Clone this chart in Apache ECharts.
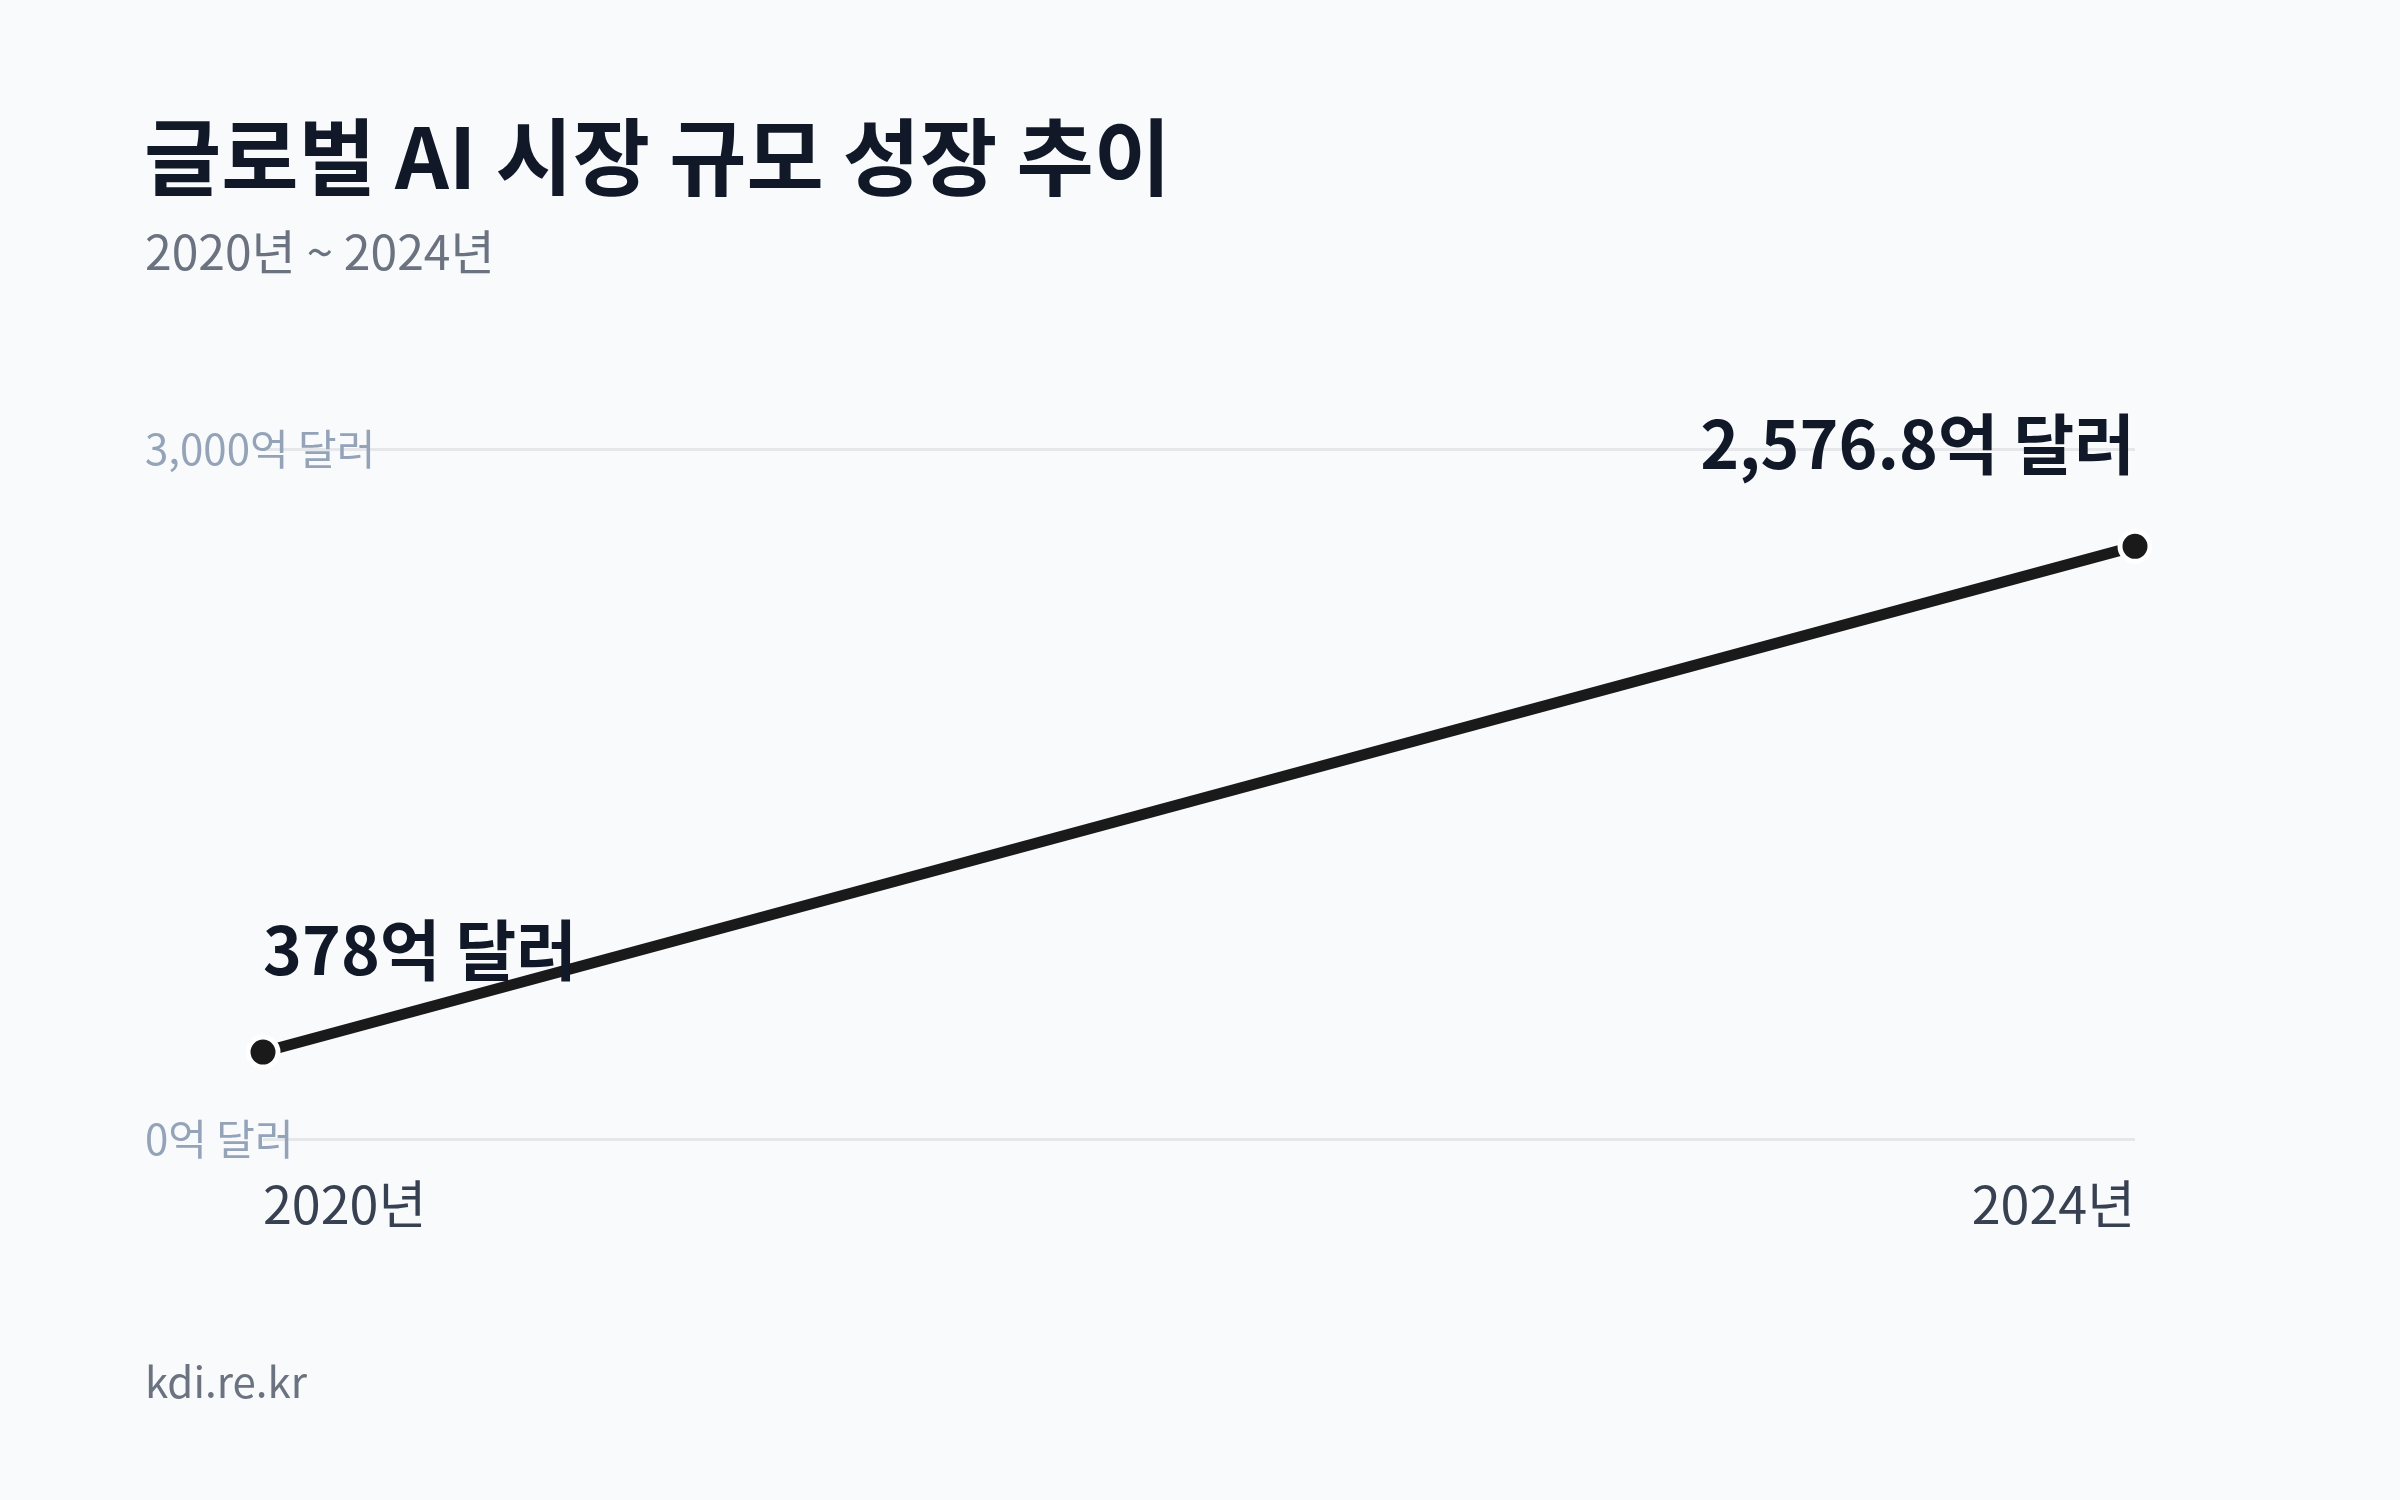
<!DOCTYPE html>
<html lang="ko">
<head>
<meta charset="utf-8">
<title>글로벌 AI 시장 규모 성장 추이</title>
<script src="https://cdn.jsdelivr.net/npm/echarts@6/dist/echarts.min.js"></script>
<style>
  html, body { margin: 0; padding: 0; background: #f8fafc; }
  #chart { width: 2400px; height: 1500px; }
</style>
</head>
<body>
<div id="chart"></div>
<script>
// 데이터
const years = ['2020년', '2024년'];
const marketSize = [378, 2576.8]; // 억 달러
const yTicks = [0, 3000];

const FONT = '"Noto Sans CJK KR", "Noto Sans", sans-serif';

function fmt(v) {
  return v.toLocaleString('en-US', { maximumFractionDigits: 1 }) + '억 달러';
}

const myChart = echarts.init(document.getElementById('chart'));

// 첫 점은 왼쪽 정렬, 마지막 점은 오른쪽 정렬 라벨
const seriesData = marketSize.map((v, i) => ({
  value: v,
  label: { align: i === 0 ? 'left' : 'right' }
}));

const option = {
  backgroundColor: '#f8fafc',
  textStyle: { fontFamily: FONT },
  title: [
    {
      text: '글로벌 AI 시장 규모 성장 추이',
      left: 139,
      top: 110,
      textStyle: { fontFamily: FONT, fontSize: 84, fontWeight: 'bold', color: '#111827' }
    },
    {
      text: '2020년 ~ 2024년',
      left: 140,
      top: 223,
      textStyle: { fontFamily: FONT, fontSize: 48, fontWeight: 'normal', color: '#6b7280' }
    }
  ],
  graphic: [
    {
      type: 'text',
      left: 145,
      top: 1361,
      style: { text: 'kdi.re.kr', fontFamily: FONT, fontSize: 42, fill: '#6b7280' }
    }
  ],
  grid: { left: 263, right: 265, top: 449, bottom: 361 },
  xAxis: {
    type: 'category',
    data: years,
    boundaryGap: false,
    axisLine: { show: false },
    axisTick: { show: false },
    axisLabel: {
      fontFamily: FONT,
      fontSize: 52,
      color: '#374151',
      margin: 39,
      alignMinLabel: 'left',
      alignMaxLabel: 'right'
    }
  },
  yAxis: {
    type: 'value',
    min: yTicks[0],
    max: yTicks[yTicks.length - 1],
    interval: yTicks[1] - yTicks[0],
    axisLine: { show: false },
    axisTick: { show: false },
    splitLine: { lineStyle: { color: '#e5e7eb', width: 3 } },
    axisLabel: {
      fontFamily: FONT,
      fontSize: 42,
      color: '#94a3b8',
      align: 'left',
      margin: 118,
      formatter: fmt
    }
  },
  series: [
    {
      type: 'line',
      data: seriesData,
      symbol: 'circle',
      symbolSize: 30,
      lineStyle: { color: '#1a1a1a', width: 11 },
      itemStyle: { color: '#1a1a1a', borderColor: '#ffffff', borderWidth: 5 },
      label: {
        show: true,
        position: 'top',
        distance: 52,
        fontFamily: FONT,
        fontSize: 66,
        fontWeight: 'bold',
        color: '#111827',
        formatter: p => fmt(p.value)
      },
      emphasis: { disabled: true },
      animation: false
    }
  ]
};

option && myChart.setOption(option);
</script>
</body>
</html>
